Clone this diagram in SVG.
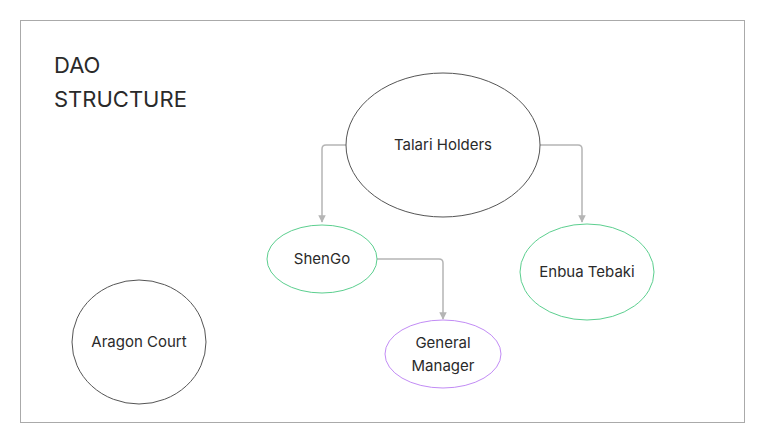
<svg xmlns="http://www.w3.org/2000/svg" width="765" height="444" viewBox="0 0 765 444">
<style>
text{font-family:Inter,"Liberation Sans",sans-serif;fill:#2a2a2a;}
.lbl{font-size:15px;text-anchor:middle;}
.title{font-size:22px;}
.n{fill:#fff;stroke-width:1;}
.dark{stroke:#555;}
.green{stroke:#5ccf8f;}
.purple{stroke:#c28cf5;}
.edge{fill:none;stroke:#b5b5b5;stroke-width:1.5;}
</style>
<defs>
<marker id="arr" viewBox="0 0 10 10" refX="9" refY="5" markerWidth="5" markerHeight="5" orient="auto">
<path d="M0,0 L10,5 L0,10 z" fill="#b5b5b5"/>
</marker>
</defs>
<rect x="20.5" y="20.5" width="724" height="402" fill="#fff" stroke="#aaa" stroke-width="1"/>
<g id="title">
<text class="title" x="54" y="73">DAO</text>
<text class="title" x="54" y="107">STRUCTURE</text>
</g>
<g id="connectors">
<path class="edge" d="M346,145 H326 Q322,145 322,149 V222" marker-end="url(#arr)"/>
<path class="edge" d="M540,145 H578 Q582,145 582,149 V222" marker-end="url(#arr)"/>
<path class="edge" d="M377,259 H439 Q443,259 443,263 V319" marker-end="url(#arr)"/>
</g>
<g id="talari">
<ellipse class="n dark" cx="443" cy="145" rx="97" ry="72"/>
<text class="lbl" x="443" y="150">Talari Holders</text>
</g>
<g id="shengo">
<ellipse class="n green" cx="322" cy="259" rx="55" ry="34"/>
<text class="lbl" x="322" y="264">ShenGo</text>
</g>
<g id="enbua">
<ellipse class="n green" cx="587" cy="272" rx="67" ry="48"/>
<text class="lbl" x="587" y="277">Enbua Tebaki</text>
</g>
<g id="gm">
<ellipse class="n purple" cx="443" cy="354" rx="58" ry="34"/>
<text class="lbl" x="443" y="348">General</text>
<text class="lbl" x="443" y="371">Manager</text>
</g>
<g id="aragon">
<ellipse class="n dark" cx="139" cy="342" rx="67" ry="62"/>
<text class="lbl" x="139" y="347">Aragon Court</text>
</g>
</svg>
